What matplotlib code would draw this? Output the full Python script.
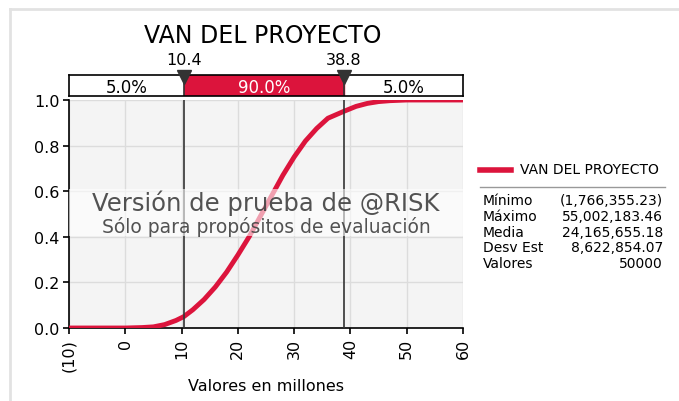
import numpy as np
import matplotlib
matplotlib.use('Agg')
import matplotlib.pyplot as plt
from matplotlib.patches import Rectangle
from matplotlib.lines import Line2D

# Datos (valores en millones)
cdf_x = [-10, 0, 3, 5, 7, 9, 10.4, 12, 14, 16, 18, 20, 22, 24, 26, 28,
         30, 32, 34, 36, 38.8, 41, 43, 45, 47, 50, 55, 60]
cdf_y = [0.0, 0.0, 0.002, 0.005, 0.015, 0.033, 0.05, 0.08, 0.125, 0.18,
         0.245, 0.32, 0.40, 0.49, 0.58, 0.67, 0.75, 0.82, 0.875, 0.92,
         0.95, 0.972, 0.985, 0.993, 0.997, 1.0, 1.0, 1.0]

lim_inf, lim_sup = 10.4, 38.8
pct_izq, pct_centro, pct_der = "5.0%", "90.0%", "5.0%"

x_ticks = [-10, 0, 10, 20, 30, 40, 50, 60]
x_tick_labels = ["(10)", "0", "10", "20", "30", "40", "50", "60"]
y_ticks = [0.0, 0.2, 0.4, 0.6, 0.8, 1.0]

stats_names = ["Mínimo", "Máximo", "Media", "Desv Est", "Valores"]
stats_values = ["(1,766,355.23)", "55,002,183.46", "24,165,655.18",
                "8,622,854.07", "50000"]

ROJO = '#DC143C'
W, H = 679, 402

fig = plt.figure(figsize=(W / 100, H / 100), dpi=100)
fig.patch.set_facecolor('white')

def fx(px):
    return px / W

def fy(py):
    return 1 - py / H

# Marco exterior gris claro
fig.add_artist(Line2D([fx(10), fx(10)], [fy(10), 0], color='#E2E2E2', lw=2))
fig.add_artist(Line2D([fx(10), 1], [fy(10), fy(10)], color='#E2E2E2', lw=2))

# Eje principal
ax = fig.add_axes([fx(69), fy(329), fx(463) - fx(69), fy(101) - fy(329)])
ax.set_facecolor('#F4F4F4')
ax.plot(cdf_x, cdf_y, color=ROJO, lw=3.5, solid_capstyle='butt', zorder=3)
ax.set_xlim(-10, 60)
ax.set_ylim(0, 1.0)
ax.set_xticks(x_ticks)
ax.set_xticklabels(x_tick_labels, rotation=90, fontsize=11.5)
ax.set_yticks(y_ticks)
ax.set_yticklabels([f"{v:.1f}" for v in y_ticks], fontsize=11.5)
ax.grid(True, color='#DCDCDC', lw=1)
ax.set_axisbelow(True)
for s in ['top', 'right']:
    ax.spines[s].set_visible(False)
ax.spines['left'].set_linewidth(1.2)
ax.spines['bottom'].set_linewidth(1.2)
ax.tick_params(length=4, width=1.2, pad=3)
ax.axvline(lim_inf, color='#333333', lw=1.2, zorder=4)
ax.axvline(lim_sup, color='#333333', lw=1.2, zorder=4)
ax.set_xlabel("Valores en millones", fontsize=11.5, labelpad=5)

# Marca de agua
ax.add_patch(Rectangle((0, (329 - 237) / 228), 1, 47 / 228, transform=ax.transAxes,
                       facecolor='white', alpha=0.6, edgecolor='none', zorder=5))
ax.text(0.5, (329 - 203) / 228, "Versión de prueba de @RISK", transform=ax.transAxes,
        ha='center', va='center', fontsize=17.5, color='#404040', alpha=0.9, zorder=6)
ax.text(0.5, (329 - 227) / 228, "Sólo para propósitos de evaluación", transform=ax.transAxes,
        ha='center', va='center', fontsize=13.5, color='#404040', alpha=0.9, zorder=6)

# Barra de percentiles
axb = fig.add_axes([fx(69), fy(97), fx(463) - fx(69), fy(76) - fy(97)])
axb.set_xlim(-10, 60)
axb.set_ylim(0, 1)
axb.axvspan(lim_inf, lim_sup, color=ROJO, zorder=1)
axb.axvline(lim_inf, color='#333333', lw=1.2)
axb.axvline(lim_sup, color='#333333', lw=1.2)
axb.set_xticks([])
axb.set_yticks([])
for s in axb.spines.values():
    s.set_linewidth(1.2)
axb.text((-10 + lim_inf) / 2, 0.45, pct_izq, ha='center', va='center', fontsize=12)
axb.text((lim_inf + lim_sup) / 2, 0.45, pct_centro, ha='center', va='center',
         fontsize=12, color='white')
axb.text((lim_sup + 60) / 2, 0.45, pct_der, ha='center', va='center', fontsize=12)
axb.plot([lim_inf, lim_sup], [0.92, 0.92], 'v', color='#333333', markersize=10,
         clip_on=False, zorder=5)
for v in (lim_inf, lim_sup):
    axb.text(v, 1.75, f"{v:.1f}", ha='center', va='center', fontsize=11.5)

# Título
fig.text(fx(263), fy(36), "VAN DEL PROYECTO", ha='center', va='center', fontsize=17)

# Leyenda y estadísticas
fig.add_artist(Line2D([fx(480), fx(511)], [fy(171), fy(171)], color=ROJO, lw=4))
fig.text(fx(520), fy(170), "VAN DEL PROYECTO", ha='left', va='center', fontsize=10)
fig.add_artist(Line2D([fx(480), fx(665)], [fy(188), fy(188)], color='#999999', lw=1))
for i, (n, v) in enumerate(zip(stats_names, stats_values)):
    yy = fy(201 + 15.8 * i)
    fig.text(fx(483), yy, n, ha='left', va='center', fontsize=10)
    fig.text(fx(663), yy, v, ha='right', va='center', fontsize=10)

fig.savefig('out.png', dpi=100, facecolor='white')
